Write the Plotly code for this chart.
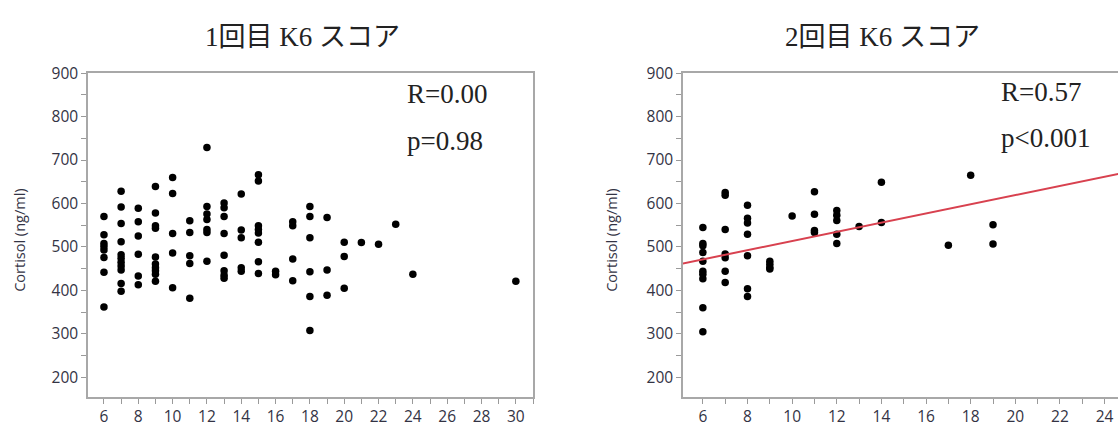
import plotly.graph_objects as go

# ---------------- data ----------------
# Panel 1: 1回目 K6 スコア vs Cortisol
k6_first = (
    [6] * 8 + [7] * 11 + [8] * 6 + [9] * 10 + [10] * 5 + [11] * 5 + [12] * 7 +
    [13] * 8 + [14] * 5 + [15] * 8 + [16] * 2 + [17] * 4 + [18] * 6 + [19] * 3 +
    [20] * 3 + [21, 22, 23, 24, 30]
)
cortisol_first = [
    570, 528, 508, 501, 493, 476, 442, 362,                     # 6
    628, 592, 554, 512, 482, 474, 465, 456, 447, 416, 398,      # 7
    589, 558, 525, 483, 433, 413,                               # 8
    639, 578, 549, 543, 477, 461, 452, 445, 437, 421,           # 9
    660, 623, 531, 486, 406,                                    # 10
    560, 533, 480, 462, 382,                                    # 11
    729, 593, 576, 563, 540, 533, 467,                          # 12
    601, 590, 570, 531, 481, 445, 435, 428,                     # 13
    622, 539, 521, 452, 444,                                    # 14
    666, 652, 549, 540, 532, 511, 466, 439,                     # 15
    444, 436,                                                   # 16
    558, 549, 472, 422,                                         # 17
    593, 570, 521, 443, 386, 308,                               # 18
    568, 447, 389,                                              # 19
    511, 478, 405,                                              # 20
    510, 506, 552, 437, 421,                                    # 21, 22, 23, 24, 30
]

# Panel 2: 2回目 K6 スコア vs Cortisol
k6_second = (
    [6] * 10 + [7] * 7 + [8] * 7 + [9] * 4 + [10] + [11] * 4 + [12] * 5 +
    [13] + [14] * 2 + [17] + [18] + [19] * 2
)
cortisol_second = [
    545, 508, 503, 487, 467, 444, 437, 427, 360, 305,           # 6
    625, 619, 540, 484, 475, 444, 418,                          # 7
    596, 566, 555, 529, 480, 404, 386,                          # 8
    467, 460, 453, 449,                                         # 9
    571,                                                        # 10
    627, 575, 538, 533,                                         # 11
    584, 573, 561, 529, 508,                                    # 12
    547,                                                        # 13
    649, 556,                                                   # 14
    504,                                                        # 17
    665,                                                        # 18
    551, 507,                                                   # 19
]

# regression line
fit_intercept = 408.0
fit_slope = 10.57
fit_x_ends = [5.1, 25.0]

titles = ["1回目 K6 スコア", "2回目 K6 スコア"]
stats_r = ["R=0.00", "R=0.57"]
stats_p = ["p=0.98", "p<0.001"]
y_title = "Cortisol (ng/ml)"

# ---------------- figure ----------------
W, H = 1118, 427
fig = go.Figure()

marker = dict(color="black", size=7.5, line=dict(width=0))
fig.add_trace(go.Scatter(x=k6_first, y=cortisol_first, mode="markers",
                         marker=marker, xaxis="x", yaxis="y", showlegend=False))
fig.add_trace(go.Scatter(x=k6_second, y=cortisol_second, mode="markers",
                         marker=marker, xaxis="x2", yaxis="y2", showlegend=False))
fit_y = [fit_intercept + fit_slope * v for v in fit_x_ends]
fig.add_trace(go.Scatter(x=fit_x_ends, y=fit_y, mode="lines",
                         line=dict(color="#d8414f", width=2),
                         xaxis="x2", yaxis="y2", showlegend=False))

tick_font = dict(family="Open Sans, Noto Sans, sans-serif", size=15.5, color="#333344")
ydom = [1 - 397 / H, 1 - 63 / H]

common_x = dict(
    tickmode="array", tickvals=list(range(6, 32, 2)),
    ticks="outside", ticklen=5, tickcolor="#9a9a9a", tickwidth=1,
    minor=dict(tickmode="array", tickvals=list(range(5, 32, 2)), ticks="outside",
               ticklen=5, tickcolor="#9a9a9a"),
    showgrid=False, zeroline=False, showline=True, linecolor="#a8a8a8", linewidth=1.5,
    tickfont=tick_font,
)
common_y = dict(
    range=[155, 900], tickmode="array", tickvals=list(range(200, 1000, 100)),
    ticks="outside", ticklen=5, tickcolor="#9a9a9a", tickwidth=1,
    minor=dict(tickmode="array", tickvals=list(range(150, 951, 100)), ticks="outside",
               ticklen=5, tickcolor="#9a9a9a"),
    showgrid=False, zeroline=False, showline=True, linecolor="#a8a8a8", linewidth=1.5,
    tickfont=tick_font, domain=ydom,
)

fig.update_layout(
    width=W, height=H, margin=dict(l=0, r=0, t=0, b=0),
    paper_bgcolor="white", plot_bgcolor="white",
    xaxis=dict(common_x, domain=[88 / W, 533 / W], range=[5.07, 31.0],
               mirror=True, anchor="y"),
    yaxis=dict(common_y, mirror=True, anchor="x"),
    xaxis2=dict(common_x, domain=[683 / W, 1.0], range=[5.11, 24.6],
                mirror=True, anchor="y2"),
    yaxis2=dict(common_y, mirror=False, anchor="x2"),
)

serif = "Liberation Serif, DejaVu Serif, Noto Sans CJK JP, serif"
annos = [
    dict(text=titles[0], x=302 / W, y=1 - 26 / H),
    dict(text=titles[1], x=882 / W, y=1 - 26 / H),
]
for a in annos:
    fig.add_annotation(a, xref="paper", yref="paper", showarrow=False,
                       xanchor="center", yanchor="middle",
                       font=dict(family=serif, size=27, color="#222"))

for xpix, ry, py, r, p in [(405, 85, 133, stats_r[0], stats_p[0]),
                           (999, 82, 130, stats_r[1], stats_p[1])]:
    for ypix, txt in [(ry, r), (py, p)]:
        fig.add_annotation(text=txt, xref="paper", yref="paper",
                           x=xpix / W, y=1 - ypix / H, showarrow=False,
                           xanchor="left", yanchor="middle",
                           font=dict(family=serif, size=27, color="#222"))

for xpix in (20, 612):
    fig.add_annotation(text=y_title, xref="paper", yref="paper",
                       x=xpix / W, y=1 - 236 / H, showarrow=False, textangle=-90,
                       xanchor="center", yanchor="middle",
                       font=dict(family="Open Sans, Noto Sans, sans-serif", size=14.5,
                                 color="#333344"))

fig.write_html("out.html")
